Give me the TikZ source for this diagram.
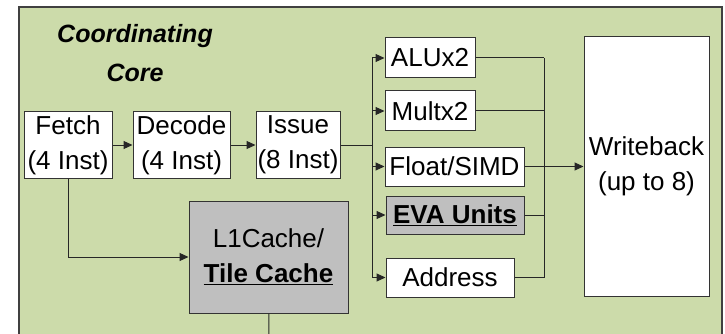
\documentclass[tikz,border=0pt]{standalone}
\usepackage{fontspec}
\setmainfont{Liberation Sans}
\usepackage{tikz}
\usetikzlibrary{arrows.meta}

\begin{document}
\begin{tikzpicture}[x=1pt, y=-1pt,
        blockbox/.style={draw=black!80, line width=1pt, fill=white, inner sep=0pt, align=center,
                font=\fontsize{26}{35}\selectfont},
        graybox/.style={blockbox, fill=gray!50},
        link/.style={line width=1pt, black!85},
        arrowlink/.style={link, -{Triangle[length=9pt,width=8pt]}}]

        \useasboundingbox (0,0) rectangle (725,334);

        % Green core area
        \draw[draw=black!75, line width=1.5pt, fill={rgb,255:red,204;green,219;blue,170}] (19,7) rectangle (722,345);

        % Title
        \node[align=center, font=\fontsize{25}{39}\selectfont\bfseries\itshape] (title) at (135,53) {Coordinating\\Core};

        % Pipeline front end
        \node[blockbox, minimum width=88pt, minimum height=66pt] (fetch) at (68,145) {Fetch\\(4 Inst)};
        \node[blockbox, minimum width=97pt, minimum height=66pt] (decode) at (181.5,145) {Decode\\(4 Inst)};
        \node[blockbox, minimum width=84pt, minimum height=66pt] (issue) at (298,145) {Issue\\(8 Inst)};
        \draw[arrowlink] (fetch) -- (decode);
        \draw[arrowlink] (decode) -- (issue);

        % Cache
        \node[graybox, minimum width=159pt, minimum height=112pt] (l1) at (268.5,257) {L1Cache/\\\underline{\textbf{Tile Cache}}};
        \draw[arrowlink] (fetch) -- (fetch |- l1) -- (l1);
        \coordinate (l1out) at (269,345);
        \draw[link] (l1) -- (l1out);

        % Execution units
        \node[blockbox, minimum width=90pt, minimum height=40pt] (alu) at (430,58) {ALUx2};
        \node[blockbox, minimum width=90pt, minimum height=40pt] (mult) at (430,111) {Multx2};
        \node[blockbox, minimum width=139pt, minimum height=39pt] (float) at (454.5,166.5) {Float/SIMD};
        \node[graybox, minimum width=138pt, minimum height=38pt] (eva) at (455,215) {\underline{\textbf{EVA Units}}};
        \node[blockbox, minimum width=128pt, minimum height=39pt] (addr) at (450,277.5) {Address};

        % Issue bus
        \coordinate (bus) at (372,145);
        \draw[link] (issue) -- (bus);
        \draw[link] (bus |- alu) -- (bus |- addr);
        \foreach \u in {alu,mult,float,eva,addr}
                \draw[arrowlink] (bus |- \u) -- (\u);

        % Writeback
        \node[blockbox, minimum width=125pt, minimum height=259pt] (wb) at (646.5,166.5) {Writeback\\(up to 8)};
        \coordinate (col) at (544,166.5);
        \draw[link] (col |- alu) -- (col |- addr);
        \foreach \u in {alu,mult,eva,addr}
                \draw[link] (\u) -- (col |- \u);
        \draw[arrowlink] (float) -- (wb);

\end{tikzpicture}
\end{document}
